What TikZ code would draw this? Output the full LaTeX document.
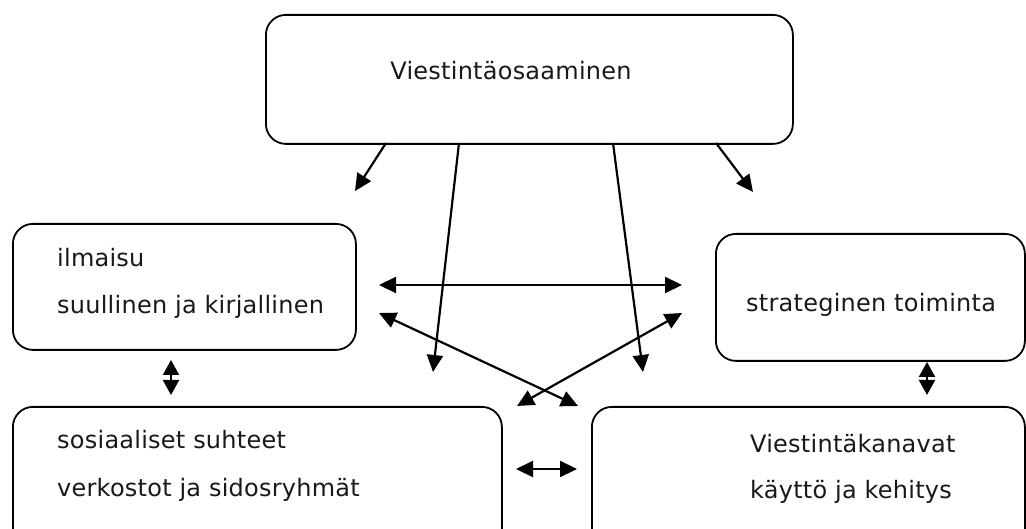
\documentclass[tikz,border=0pt]{standalone}
\usepackage{fontspec}
\setmainfont{DejaVu Sans}[LetterSpace=1]
\usetikzlibrary{arrows.meta}
\begin{document}
\begin{tikzpicture}[x=1pt,y=-1pt,
  box/.style={draw,line width=1.8pt,rounded corners=20pt,anchor=north west,inner sep=0pt},
  lbl/.style={inner sep=0pt,anchor=base west,text=black!90,font=\fontsize{24}{28}\selectfont},
  con/.style={line width=2.2pt,-{Triangle[length=17pt,width=16pt]}},
  dcon/.style={line width=2.2pt,{Triangle[length=17pt,width=16pt]}-{Triangle[length=17pt,width=16pt]}},
  scon/.style={line width=2.2pt,{Triangle[length=15pt,width=16pt]}-{Triangle[length=15pt,width=16pt]}}]
\useasboundingbox (0,0) rectangle (1026,529);
\clip (0,0) rectangle (1026,529);
% boxes
\node[box,minimum width=527pt,minimum height=129pt] (top) at (265,14) {};
\node[box,minimum width=343pt,minimum height=126pt] (ilm) at (12,223) {};
\node[box,minimum width=309pt,minimum height=127pt] (str) at (715,233) {};
\node[box,minimum width=489pt,minimum height=150pt] (sos) at (12,406) {};
\node[box,minimum width=433pt,minimum height=150pt] (vk) at (591,406) {};
% texts
\node[lbl,anchor=base] (t1) at (511,80) {Viestintäosaaminen};
\node[lbl] (t2) at (57,267) {ilmaisu};
\node[lbl] (t3) at (57,314) {suullinen ja kirjallinen};
\node[lbl] (t4) at (746,312) {strateginen toiminta};
\node[lbl] (t5) at (57,448) {sosiaaliset suhteet};
\node[lbl] (t6) at (57,496) {verkostot ja sidosryhmät};
\node[lbl] (t7) at (750,452) {Viestintäkanavat};
\node[lbl] (t8) at (750,498) {käyttö ja kehitys};
% connector coordinates
\coordinate (a1s) at (386,143); \coordinate (a1e) at (355,191);
\coordinate (a2s) at (459,143); \coordinate (a2e) at (433,372);
\coordinate (a3s) at (613,143); \coordinate (a3e) at (643,372);
\coordinate (a4s) at (716,143); \coordinate (a4e) at (753,192);
\coordinate (h1a) at (379,285); \coordinate (h1b) at (682,285);
\coordinate (x1a) at (379,313); \coordinate (x1b) at (578,406);
\coordinate (x2a) at (682,313); \coordinate (x2b) at (517,406);
\coordinate (v1a) at (171,360); \coordinate (v1b) at (171,395);
\coordinate (v2a) at (927,362); \coordinate (v2b) at (927,395);
\coordinate (h2a) at (516,469); \coordinate (h2b) at (577,469);
% connectors
\draw[con] (a1s) -- (a1e);
\draw[con] (a2s) -- (a2e);
\draw[con] (a3s) -- (a3e);
\draw[con] (a4s) -- (a4e);
\draw[dcon] (h1a) -- (h1b);
\draw[dcon] (x1a) -- (x1b);
\draw[dcon] (x2a) -- (x2b);
\draw[scon] (v1a) -- (v1b);
\draw[scon] (v2a) -- (v2b);
\draw[dcon] (h2a) -- (h2b);
\end{tikzpicture}
\end{document}
